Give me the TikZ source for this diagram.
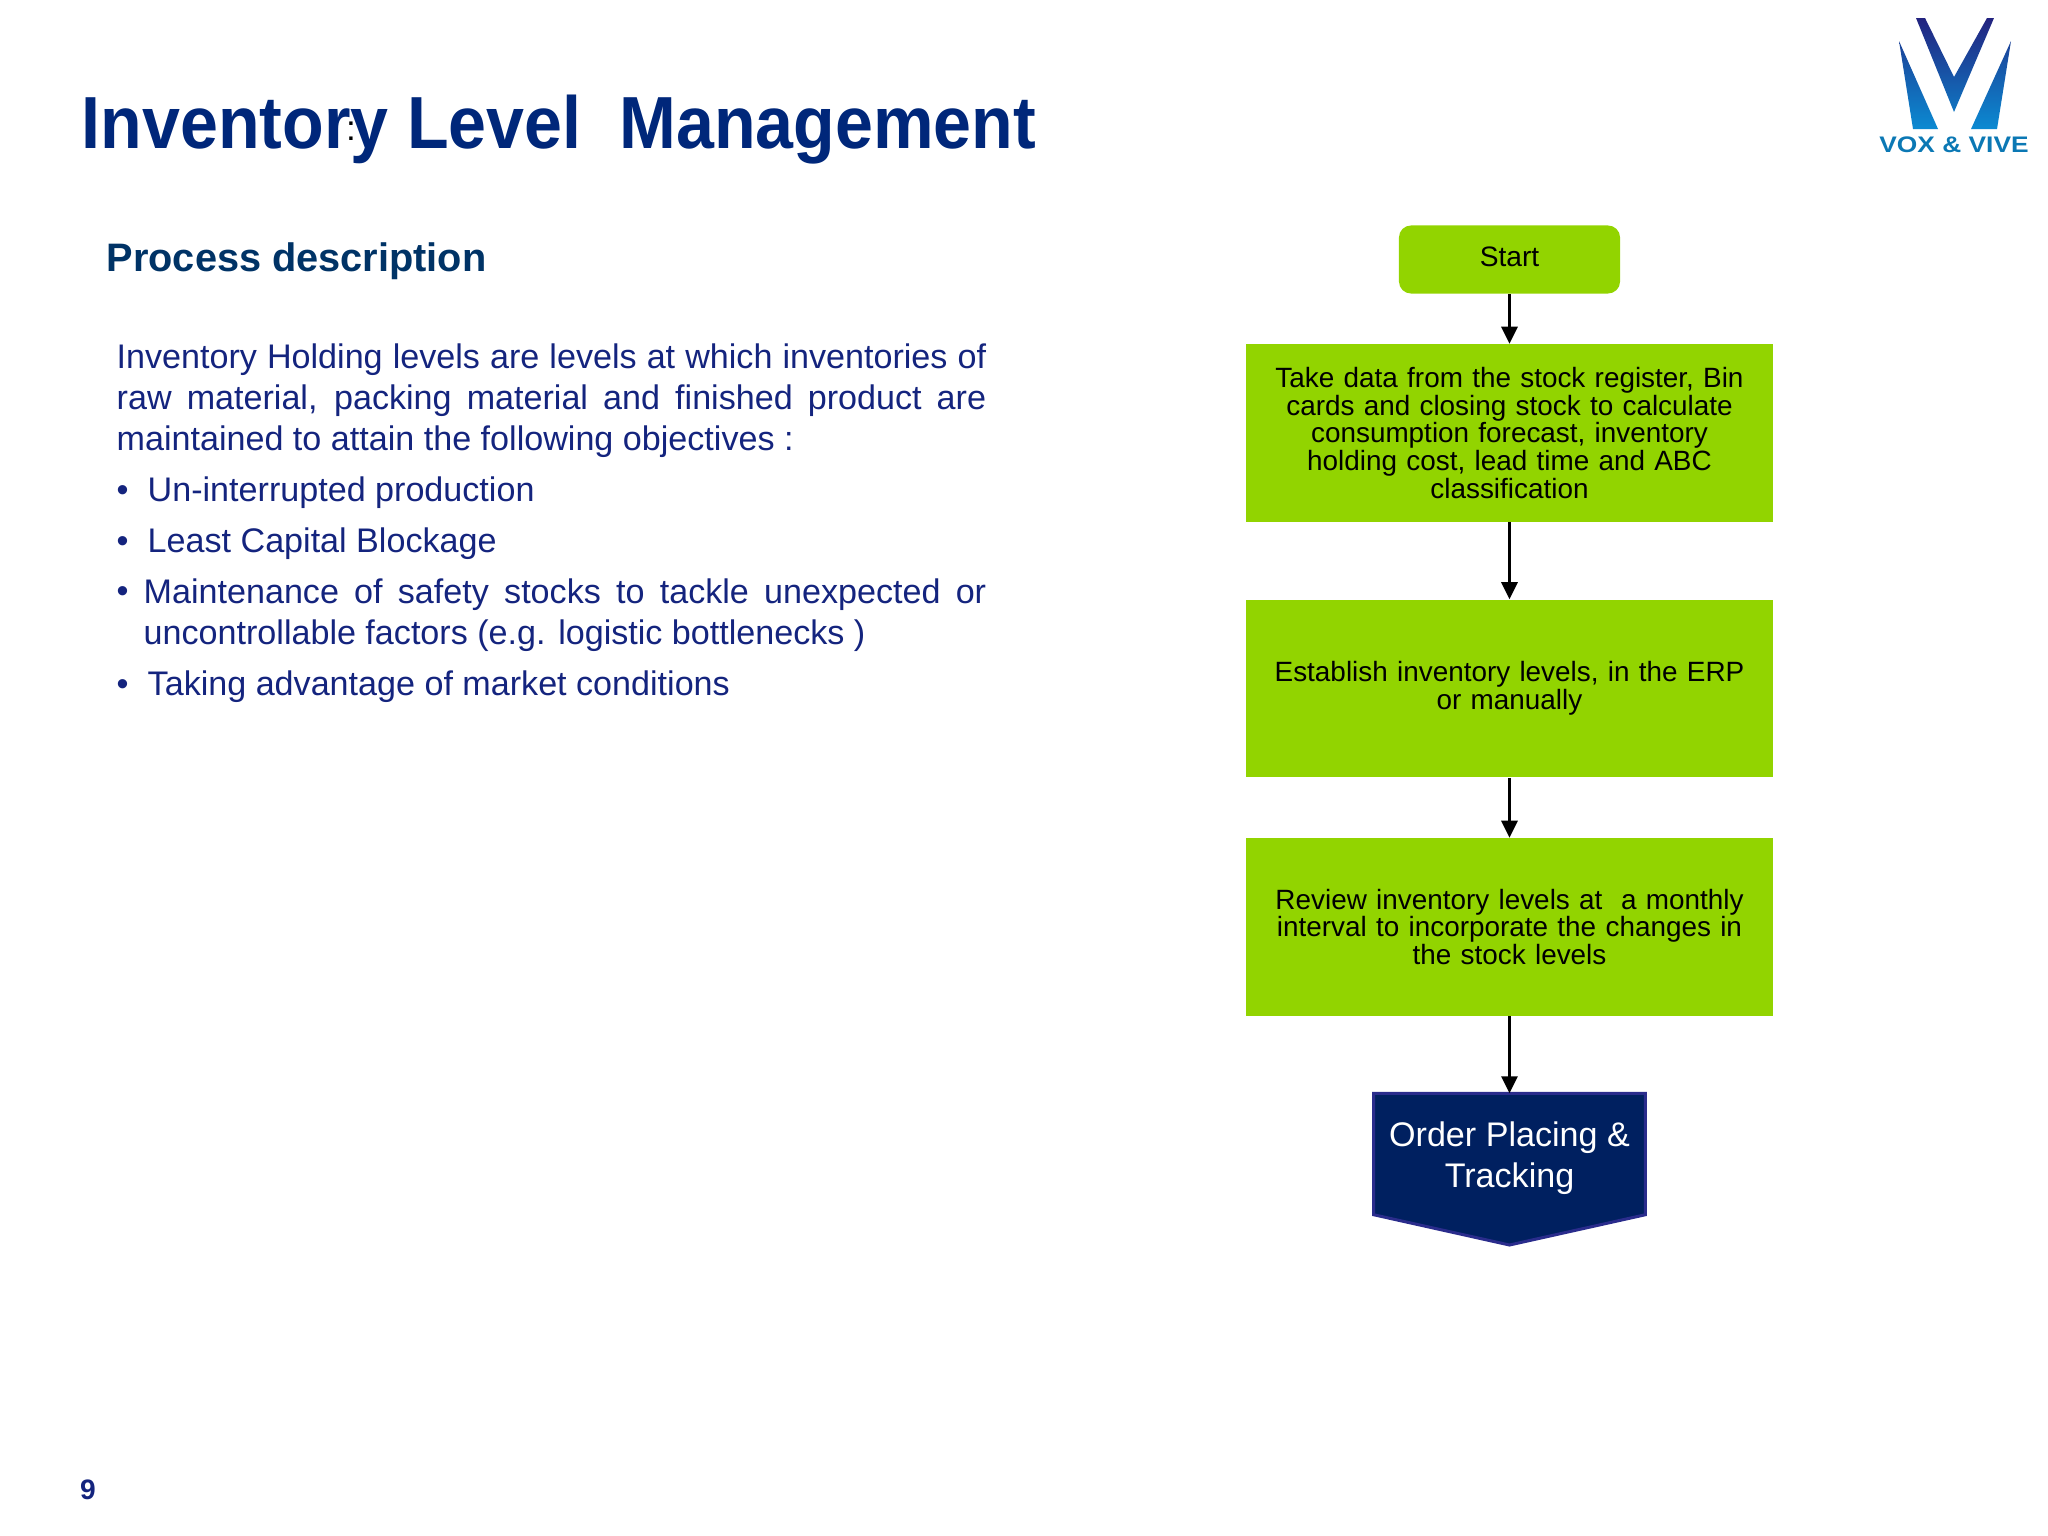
\documentclass[tikz,border=0pt]{standalone}
\usepackage{fontspec}
\setmainfont{Liberation Sans}
\usetikzlibrary{arrows.meta}
\definecolor{boxgreen}{HTML}{92D400}
\definecolor{titleblue}{HTML}{00277A}
\definecolor{headblue}{HTML}{003366}
\definecolor{bodyblue}{HTML}{14247E}
\definecolor{ordernavy}{HTML}{002060}
\definecolor{orderedge}{HTML}{2A2C8C}
\definecolor{logotop}{HTML}{23237F}
\definecolor{logobot}{HTML}{0B8AD2}
\definecolor{logotext}{HTML}{0B78B4}
\tikzset{
	bodytext/.style={anchor=north west, inner sep=0pt, text=bodyblue, font=\fontsize{9.7}{11.67}\selectfont},
	flowbox/.style={fill=boxgreen, minimum width=5.27cm, minimum height=1.77cm, text width=5.2cm, align=center, inner sep=0pt, font=\fontsize{7.93}{7.85}\selectfont},
	flowarrow/.style={line width=0.3mm, -{Triangle[width=1.6mm,length=1.7mm]}}
}
\newcommand{\bul}{\makebox[0.31cm][l]{•}}

\begin{document}
\begin{tikzpicture}[x=0.01cm, y=-0.01cm]
		%%%%% START %%%%%
		\useasboundingbox (0, 0) rectangle (2048, 1536);
		
		\node[anchor=base west, inner sep=0pt, text=titleblue, xscale=0.923, font=\bfseries\fontsize{21}{26}\selectfont] (title) at (81, 148) {Inventory Level\ \ Management};
		\node[inner sep=0pt, font=\fontsize{10}{12}\selectfont] (titlecolon) at (351, 131) {:};
		\node[anchor=base west, inner sep=0pt, text=headblue, font=\bfseries\fontsize{11.3}{14}\selectfont] (head) at (106, 271.5) {Process description};
		
		\node[bodytext, text width=8.69cm, align=justify] (para) at (116, 343) {Inventory Holding levels are levels at which inventories of raw material, packing material and finished product are maintained to attain the following objectives :};
		\node[bodytext] (bulA) at (116, 476) {\bul Un-interrupted production};
		\node[bodytext] (bulB) at (116, 527) {\bul Least Capital Blockage};
		\node[bodytext] (bulCmark) at (116, 578) {\vphantom{M}•};
		\node[bodytext, text width=8.42cm, align=justify] (bulC) at (143, 578) {Maintenance of safety stocks to tackle unexpected or\linebreak uncontrollable factors (e.g. logistic bottlenecks )};
		\node[bodytext] (bulD) at (116, 670) {\bul Taking advantage of market conditions};
		
		\node[anchor=base, inner sep=0pt, text=bodyblue, font=\bfseries\fontsize{8}{10}\selectfont] (pageno) at (88, 1499.5) {9};
		
		% flow chart
		\node[fill=boxgreen, rounded corners=1.2mm, minimum width=2.21cm, minimum height=0.68cm, inner sep=0pt, text depth=0.05cm, font=\fontsize{8}{10}\selectfont] (start) at (1509.5, 259.5) {Start};
		\node[flowbox] (data) at (1509.5, 433) {Take data from the stock register, Bin\\cards and closing stock to calculate\\consumption forecast, inventory\\holding cost, lead time and ABC\\classification\par\vspace{0.05cm}};
		\node[flowbox] (levels) at (1509.5, 688.5) {Establish inventory levels, in the ERP\\or manually};
		\node[flowbox] (review) at (1509.5, 927) {Review inventory levels at\ \ a monthly\\interval to incorporate the changes in\\the stock levels\par\vspace{0.05cm}};
		\node[minimum width=2.7cm, minimum height=1.2cm, inner sep=0pt] (order) at (1509.5, 1154) {};
		\draw[fill=ordernavy, draw=orderedge, line width=0.3mm] (order.north west) -- (order.north east) -- (order.south east) -- (1509.5, 1245) -- (order.south west) -- cycle;
		\node[text=white, align=center, inner sep=0pt, yshift=-0.04cm, font=\fontsize{9.7}{11.67}\selectfont] (ordertext) at (order.center) {Order Placing \&\\Tracking};
		
		\foreach \from/\to in {start/data, data/levels, levels/review, review/order}
			\draw[flowarrow] (\from) -- (\to);
		
		% logo
		\shade[top color=logotop, bottom color=logobot!80!logotop] (1916, 18) -- (1925, 18) -- (1954, 77) -- (1987, 18) -- (1994, 18) -- (1954, 112) -- cycle;
		\shade[top color=logotop!70!logobot, bottom color=logobot] (1899, 41) -- (1938, 129) -- (1913, 129) -- cycle;
		\shade[top color=logotop!70!logobot, bottom color=logobot] (2011, 41) -- (1997, 129) -- (1971, 129) -- cycle;
		\node[inner sep=0pt, text=logotext, xscale=1.17, font=\bfseries\fontsize{6.4}{8}\selectfont] (logoname) at (1954, 145) {VOX \& VIVE};
		
		%%%%% END %%%%%
	\end{tikzpicture}
\end{document}
